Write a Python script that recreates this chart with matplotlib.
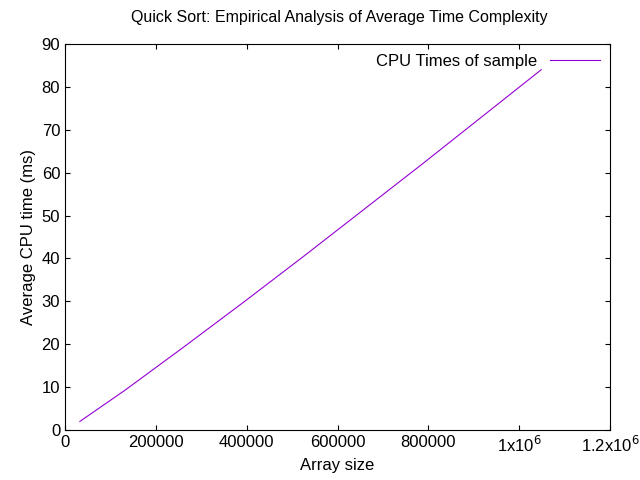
import matplotlib
matplotlib.use("Agg")
import matplotlib.pyplot as plt

plt.rcParams['font.family'] = ['Liberation Sans', 'DejaVu Sans']

sizes = [32768, 131072, 262144, 393216, 524288, 655360, 786432, 917504, 1048576]
times = [2.0, 9.2, 19.4, 29.8, 40.4, 51.2, 62.0, 73.0, 84.0]

xticks = [0, 200000, 400000, 600000, 800000, 1000000, 1200000]
xlabels = ['0', '200000', '400000', '600000', '800000', r'1x10$^6$', r'1.2x10$^6$']

fig = plt.figure(figsize=(6.4, 4.8), dpi=100)
ax = fig.add_axes([65/640, 50/480, 545/640, 386/480])
ax.plot(sizes, times, color='#9400D3', lw=0.8, label='CPU Times of sample')
ax.set_xlim(0, 1200000)
ax.set_ylim(0, 90)
ax.set_xticks(xticks)
ax.set_xticklabels(xlabels)
ax.set_yticks(range(0, 91, 10))
ax.tick_params(direction='in', top=True, right=True, labelsize=12)
ax.set_xlabel('Array size', fontsize=12, labelpad=2)
ax.set_ylabel('Average CPU time (ms)', fontsize=12)
fig.text(0.53, 0.955, 'Quick Sort: Empirical Analysis of Average Time Complexity',
         ha='center', fontsize=11.5)
ax.legend(loc='upper right', frameon=False, fontsize=12, markerfirst=False,
          handlelength=3, borderaxespad=0.2)
fig.savefig('out.png', dpi=100)
